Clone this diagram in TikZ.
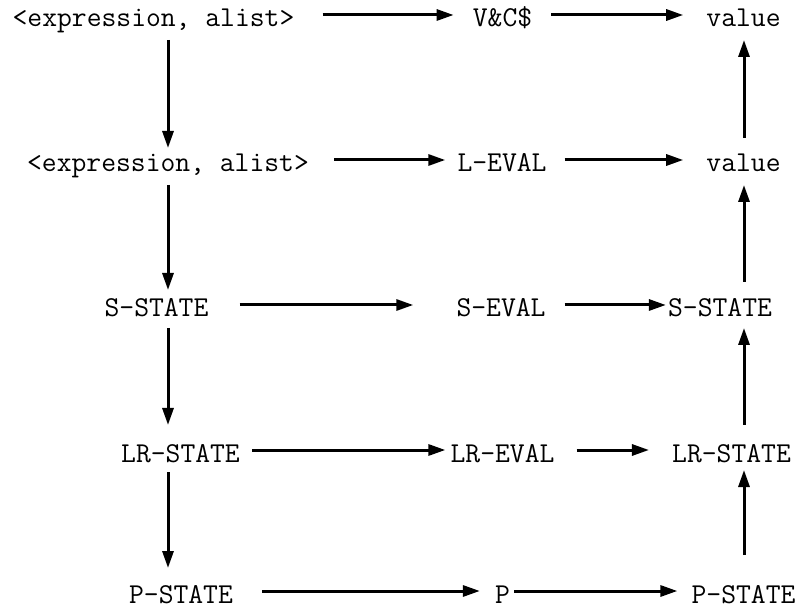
\documentclass[tikz,border=0pt]{standalone}
\usetikzlibrary{arrows.meta}

\begin{document}
\begin{tikzpicture}[x=1pt, y=-1pt]
\fontsize{28.8}{30}\selectfont\ttfamily

\tikzset{every node/.style={inner sep=0pt, anchor=base},
	arr/.style={-{Triangle[length=17pt, width=11pt]}, line width=3pt},
	gaps/.style 2 args={shorten <=#1pt, shorten >=#2pt}}

\useasboundingbox (0,0) rectangle (798,609);

\coordinate (lcol) at (168,0);
\coordinate (rcol) at (744,0);

\node (exp1) at (153.5,27) {<expression, alist>};
\node (vc) at (502.5,27) {V\&C\$};
\node (val1) at (743.5,27) {value};

\node (exp2) at (168,172) {<expression, alist>};
\node (leval) at (502,172) {L-EVAL};
\node (val2) at (743.5,172) {value};

\node (sstate1) at (156.5,317) {S-STATE};
\node (seval) at (501,317) {S-EVAL};
\node (sstate2) at (720,317) {S-STATE};

\node (lrstate1) at (180.5,462) {LR-STATE};
\node (lreval) at (502.5,462) {LR-EVAL};
\node (lrstate2) at (731.5,462) {LR-STATE};

\node (pstate1) at (181,603) {P-STATE};
\node (p) at (502.5,603) {P};
\node (pstate2) at (743.5,603) {P-STATE};

\draw[arr, gaps={28}{19}] ([yshift=12pt]exp1.base east) -- ([yshift=12pt]vc.base west);
\draw[arr, gaps={19}{23}] ([yshift=12pt]vc.base east) -- ([yshift=12pt]val1.base west);
\draw[arr, gaps={25}{12}] ([yshift=12pt]exp2.base east) -- ([yshift=12pt]leval.base west);
\draw[arr, gaps={18}{23}] ([yshift=12pt]leval.base east) -- ([yshift=12pt]val2.base west);
\draw[arr, gaps={31}{43}] ([yshift=12pt]sstate1.base east) -- ([yshift=12pt]seval.base west);
\draw[arr, gaps={19}{2}] ([yshift=12pt]seval.base east) -- ([yshift=12pt]sstate2.base west);
\draw[arr, gaps={12}{5}] ([yshift=12pt]lrstate1.base east) -- ([yshift=12pt]lreval.base west);
\draw[arr, gaps={22}{23}] ([yshift=12pt]lreval.base east) -- ([yshift=12pt]lrstate2.base west);
\draw[arr, gaps={29}{15}] ([yshift=12pt]pstate1.base east) -- ([yshift=12pt]p.base west);
\draw[arr, gaps={4}{14}] ([yshift=12pt]p.base east) -- ([yshift=12pt]pstate2.base west);

\draw[arr, gaps={13}{24}] (exp1.base -| lcol) -- (exp2.base -| lcol);
\draw[arr, gaps={13}{27}] (exp2.base -| lcol) -- (sstate1.base -| lcol);
\draw[arr, gaps={11}{37}] (sstate1.base -| lcol) -- (lrstate1.base -| lcol);
\draw[arr, gaps={10}{35}] (lrstate1.base -| lcol) -- (pstate1.base -| lcol);

\draw[arr, gaps={34}{13}] (val2.base -| rcol) -- (val1.base -| rcol);
\draw[arr, gaps={35}{13}] (sstate2.base -| rcol) -- (val2.base -| rcol);
\draw[arr, gaps={37}{11}] (lrstate2.base -| rcol) -- (sstate2.base -| rcol);
\draw[arr, gaps={48}{8}] (pstate2.base -| rcol) -- (lrstate2.base -| rcol);
\end{tikzpicture}
\end{document}
